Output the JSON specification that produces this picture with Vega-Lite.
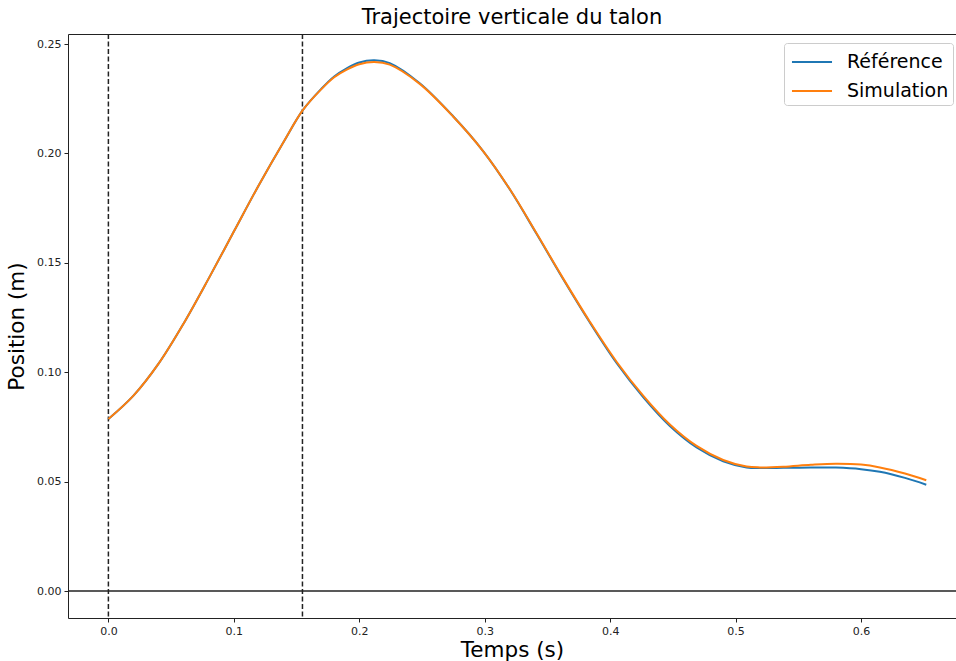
{
  "$schema": "https://vega.github.io/schema/vega-lite/v6.json",
  "width": 888,
  "height": 584,
  "autosize": {"type": "none"},
  "padding": {"left": 68, "top": 34, "right": 0, "bottom": 43},
  "background": "white",
  "title": {"text": "Trajectoire verticale du talon", "font": "DejaVu Sans", "fontSize": 21, "fontWeight": "normal", "color": "#000", "offset": 5},
  "config": {
    "view": {"stroke": null},
    "axis": {"labelFont": "DejaVu Sans", "labelFontSize": 11, "labelColor": "#222", "titleFont": "DejaVu Sans", "titleFontSize": 21.5, "titleFontWeight": "normal", "titleColor": "#000", "domainColor": "#222", "domainWidth": 1, "tickColor": "#222", "tickSize": 4, "tickWidth": 1, "grid": false, "labelPadding": 3}
  },
  "datasets": {
    "curves": [
      {"t": 0.000, "v": 0.0786, "s": "Simulation"},
      {"t": 0.020, "v": 0.0893, "s": "Simulation"},
      {"t": 0.040, "v": 0.1039, "s": "Simulation"},
      {"t": 0.060, "v": 0.1223, "s": "Simulation"},
      {"t": 0.080, "v": 0.1429, "s": "Simulation"},
      {"t": 0.100, "v": 0.1643, "s": "Simulation"},
      {"t": 0.120, "v": 0.1856, "s": "Simulation"},
      {"t": 0.140, "v": 0.2056, "s": "Simulation"},
      {"t": 0.155, "v": 0.2198, "s": "Simulation"},
      {"t": 0.170, "v": 0.2295, "s": "Simulation"},
      {"t": 0.180, "v": 0.2348, "s": "Simulation"},
      {"t": 0.190, "v": 0.2383, "s": "Simulation"},
      {"t": 0.200, "v": 0.2408, "s": "Simulation"},
      {"t": 0.212, "v": 0.2418, "s": "Simulation"},
      {"t": 0.2243, "v": 0.2406, "s": "Simulation"},
      {"t": 0.2482, "v": 0.2318, "s": "Simulation"},
      {"t": 0.2748, "v": 0.2169, "s": "Simulation"},
      {"t": 0.2987, "v": 0.2011, "s": "Simulation"},
      {"t": 0.3202, "v": 0.1835, "s": "Simulation"},
      {"t": 0.3413, "v": 0.1635, "s": "Simulation"},
      {"t": 0.3625, "v": 0.1429, "s": "Simulation"},
      {"t": 0.3838, "v": 0.1231, "s": "Simulation"},
      {"t": 0.4051, "v": 0.1048, "s": "Simulation"},
      {"t": 0.4263, "v": 0.0893, "s": "Simulation"},
      {"t": 0.4476, "v": 0.0761, "s": "Simulation"},
      {"t": 0.4689, "v": 0.0663, "s": "Simulation"},
      {"t": 0.4901, "v": 0.0599, "s": "Simulation"},
      {"t": 0.5088, "v": 0.0569, "s": "Simulation"},
      {"t": 0.5194, "v": 0.0565, "s": "Simulation"},
      {"t": 0.538, "v": 0.0568, "s": "Simulation"},
      {"t": 0.560, "v": 0.0577, "s": "Simulation"},
      {"t": 0.580, "v": 0.0582, "s": "Simulation"},
      {"t": 0.600, "v": 0.0578, "s": "Simulation"},
      {"t": 0.615, "v": 0.0565, "s": "Simulation"},
      {"t": 0.635, "v": 0.0537, "s": "Simulation"},
      {"t": 0.652, "v": 0.0506, "s": "Simulation"},
      {"t": 0.000, "v": 0.0786, "s": "Référence"},
      {"t": 0.020, "v": 0.0893, "s": "Référence"},
      {"t": 0.040, "v": 0.1039, "s": "Référence"},
      {"t": 0.060, "v": 0.1223, "s": "Référence"},
      {"t": 0.080, "v": 0.1429, "s": "Référence"},
      {"t": 0.100, "v": 0.1643, "s": "Référence"},
      {"t": 0.120, "v": 0.1856, "s": "Référence"},
      {"t": 0.140, "v": 0.2056, "s": "Référence"},
      {"t": 0.155, "v": 0.2198, "s": "Référence"},
      {"t": 0.170, "v": 0.2297, "s": "Référence"},
      {"t": 0.180, "v": 0.2352, "s": "Référence"},
      {"t": 0.190, "v": 0.2389, "s": "Référence"},
      {"t": 0.200, "v": 0.2416, "s": "Référence"},
      {"t": 0.212, "v": 0.2426, "s": "Référence"},
      {"t": 0.2243, "v": 0.2413, "s": "Référence"},
      {"t": 0.2482, "v": 0.2321, "s": "Référence"},
      {"t": 0.2748, "v": 0.2170, "s": "Référence"},
      {"t": 0.2987, "v": 0.2011, "s": "Référence"},
      {"t": 0.3202, "v": 0.1834, "s": "Référence"},
      {"t": 0.3413, "v": 0.1633, "s": "Référence"},
      {"t": 0.3625, "v": 0.1426, "s": "Référence"},
      {"t": 0.3838, "v": 0.1227, "s": "Référence"},
      {"t": 0.4051, "v": 0.1042, "s": "Référence"},
      {"t": 0.4263, "v": 0.0886, "s": "Référence"},
      {"t": 0.4476, "v": 0.0754, "s": "Référence"},
      {"t": 0.4689, "v": 0.0656, "s": "Référence"},
      {"t": 0.4901, "v": 0.0593, "s": "Référence"},
      {"t": 0.5088, "v": 0.0565, "s": "Référence"},
      {"t": 0.5194, "v": 0.0562, "s": "Référence"},
      {"t": 0.538, "v": 0.0563, "s": "Référence"},
      {"t": 0.560, "v": 0.0565, "s": "Référence"},
      {"t": 0.580, "v": 0.0564, "s": "Référence"},
      {"t": 0.600, "v": 0.0557, "s": "Référence"},
      {"t": 0.615, "v": 0.0545, "s": "Référence"},
      {"t": 0.635, "v": 0.0517, "s": "Référence"},
      {"t": 0.652, "v": 0.0486, "s": "Référence"}
    ],
    "vlines": [{"t": 0.0}, {"t": 0.1547}],
    "hline": [{"v": 0.0}]
  },
  "resolve": {"scale": {"x": "shared"}, "axis": {"x": "independent"}},
  "layer": [
    {
      "data": {"name": "hline"},
      "mark": {"type": "rule", "color": "#222", "strokeWidth": 1.5},
      "encoding": {
        "y": {"field": "v", "type": "quantitative", "scale": {"domain": [-0.01234, 0.2546], "nice": false, "zero": false}}
      }
    },
    {
      "data": {"name": "vlines"},
      "mark": {"type": "rule", "color": "#222", "strokeWidth": 1.5, "strokeDash": [5, 2.5]},
      "encoding": {
        "x": {"field": "t", "type": "quantitative", "scale": {"domain": [-0.0322, 0.6757], "nice": false, "zero": false},
              "axis": {"orient": "top", "labels": false, "ticks": false, "title": null, "domain": true}}
      }
    },
    {
      "data": {"name": "curves"},
      "transform": [{"filter": "datum.s === 'Référence'"}],
      "mark": {"type": "line", "strokeWidth": 2, "interpolate": "catmull-rom", "clip": true},
      "encoding": {
        "x": {"field": "t", "type": "quantitative", "scale": {"domain": [-0.0322, 0.6757], "nice": false, "zero": false},
              "axis": {"orient": "bottom", "values": [0, 0.1, 0.2, 0.3, 0.4, 0.5, 0.6], "format": ".1f", "title": "Temps (s)", "titlePadding": 3}},
        "y": {"field": "v", "type": "quantitative", "scale": {"domain": [-0.01234, 0.2546], "nice": false, "zero": false},
              "axis": {"values": [0, 0.05, 0.1, 0.15, 0.2, 0.25], "format": ".2f", "title": "Position (m)", "titlePadding": 8}},
        "color": {"field": "s", "type": "nominal", "scale": {"domain": ["Référence", "Simulation"], "range": ["#1f77b4", "#ff7f0e"]},
                  "legend": {"title": null, "orient": "none", "legendX": 716, "legendY": 9, "symbolType": "M-1.43,0H1.43", "symbolSize": 784, "symbolStrokeWidth": 2, "symbolOffset": 9, "labelOffset": 20, "labelFont": "DejaVu Sans", "labelFontSize": 19, "labelColor": "#000", "padding": 4, "rowPadding": 4, "strokeColor": "#ccc", "fillColor": "white", "cornerRadius": 3}}
      }
    },
    {
      "data": {"name": "curves"},
      "transform": [{"filter": "datum.s === 'Simulation'"}],
      "mark": {"type": "line", "strokeWidth": 2, "interpolate": "catmull-rom", "clip": true},
      "encoding": {
        "x": {"field": "t", "type": "quantitative", "scale": {"domain": [-0.0322, 0.6757], "nice": false, "zero": false}, "axis": null},
        "y": {"field": "v", "type": "quantitative", "scale": {"domain": [-0.01234, 0.2546], "nice": false, "zero": false}},
        "color": {"field": "s", "type": "nominal", "scale": {"domain": ["Référence", "Simulation"], "range": ["#1f77b4", "#ff7f0e"]}}
      }
    }
  ]
}
